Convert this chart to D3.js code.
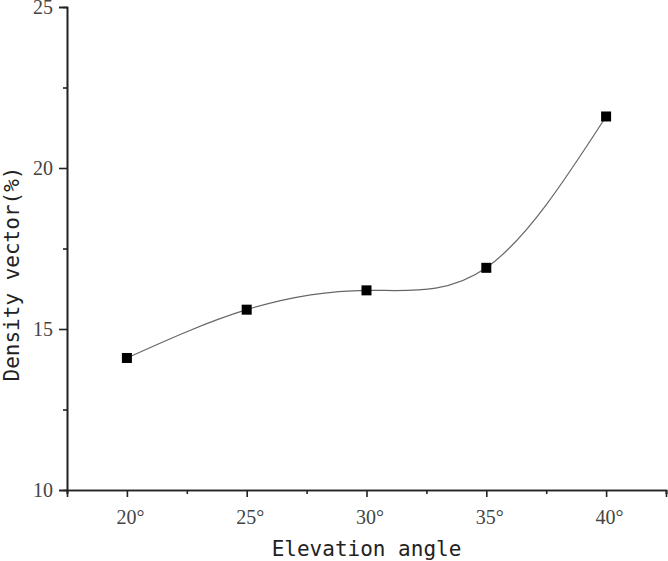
<!DOCTYPE html>
<html><head><meta charset="utf-8">
<script src="https://cdn.jsdelivr.net/npm/d3@7"></script>
<style>body{margin:0;background:#fff}svg{display:block}</style>
</head><body>
<svg id="c" width="668" height="561"></svg>
<script>
const angles = [20, 25, 30, 35, 40];
const density = [14.1, 15.6, 16.2, 16.9, 21.6];
const xTicks = [20, 25, 30, 35, 40];
const xMinor = [17.5, 22.5, 27.5, 32.5, 37.5, 42.5];
const yTicks = [10, 15, 20, 25];
const yMinor = [12.5, 17.5, 22.5];
const xTitle = "Elevation angle";
const yTitle = "Density vector(%)";

const svg = d3.select("#c");
const L = 67, R = 666, T = 7, B = 490;
const x = d3.scaleLinear().domain([17.5, 42.5]).range([L, R]);
const y = d3.scaleLinear().domain([10, 25]).range([B, T]);
const tickFont = "'Liberation Serif', serif";
const titleFont = "'DejaVu Sans Mono', monospace";

// x axis
const gx = svg.append("g").attr("transform", `translate(0,${B})`);
gx.call(d3.axisBottom(x).tickValues(xMinor).tickSize(4).tickFormat(""));
gx.append("g").call(d3.axisBottom(x).tickValues(xTicks).tickSize(7).tickPadding(13).tickFormat(d => d + "°"));
gx.selectAll("path.domain").attr("stroke", "#222").attr("stroke-width", 1.6);
gx.selectAll("line").attr("stroke", "#222").attr("stroke-width", 1.6);
gx.selectAll("text").attr("font-family", tickFont).attr("font-size", 20).attr("fill", "#444")
  .attr("dx", "0.15em");

// y axis
const gy = svg.append("g").attr("transform", `translate(${L},0)`);
gy.call(d3.axisLeft(y).tickValues(yMinor).tickSize(4).tickFormat(""));
gy.append("g").call(d3.axisLeft(y).tickValues(yTicks).tickSize(8).tickPadding(6).tickFormat(d3.format("d")));
gy.selectAll("path.domain").attr("stroke", "#222").attr("stroke-width", 1.6);
gy.selectAll("line").attr("stroke", "#222").attr("stroke-width", 1.6);
gy.selectAll("text").attr("font-family", tickFont).attr("font-size", 20).attr("fill", "#444");

// titles
svg.append("text").attr("x", (L + R) / 2).attr("y", 556).attr("text-anchor", "middle")
  .attr("font-family", titleFont).attr("font-size", 21).attr("fill", "#222").text(xTitle);
svg.append("text").attr("transform", `translate(19,${274}) rotate(-90)`).attr("text-anchor", "middle")
  .attr("font-family", titleFont).attr("font-size", 21).attr("fill", "#222").text(yTitle);

// curve
const pts = angles.map((a, i) => [a, density[i]]);
svg.append("path").datum(pts)
  .attr("d", d3.line().x(d => x(d[0])).y(d => y(d[1])).curve(d3.curveNatural))
  .attr("fill", "none").attr("stroke", "#666").attr("stroke-width", 1.2);

svg.append("g").selectAll("rect").data(pts).join("rect")
  .attr("x", d => x(d[0]) - 5).attr("y", d => y(d[1]) - 5)
  .attr("width", 10).attr("height", 10).attr("fill", "#000");
</script>
</body></html>
